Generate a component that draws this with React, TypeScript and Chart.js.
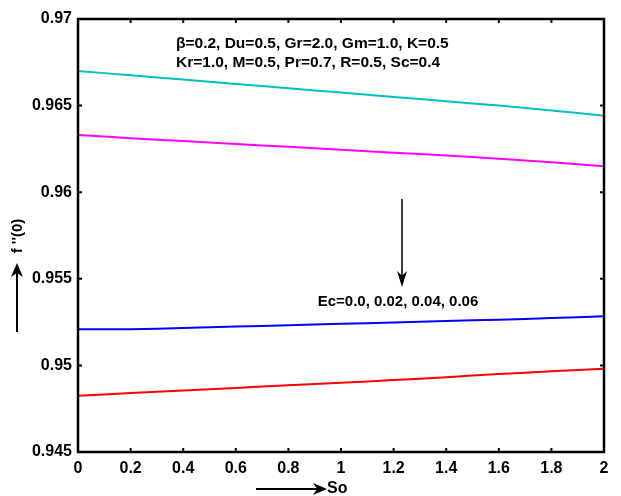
import React, { useEffect, useRef } from "react";
import { Chart, registerables } from "chart.js";

Chart.register(...registerables);

// Soret number grid
const soValues = [0, 0.2, 0.4, 0.6, 0.8, 1.0, 1.2, 1.4, 1.6, 1.8, 2.0];

// Skin friction f''(0) for Ec = 0.0, 0.02, 0.04, 0.06
const fppEc000 = [0.9670, 0.96675, 0.9665, 0.96625, 0.9660, 0.96575, 0.9655, 0.96525, 0.9650, 0.96472, 0.96442];
const fppEc002 = [0.9633, 0.96312, 0.96295, 0.96278, 0.96262, 0.96245, 0.96228, 0.96212, 0.96193, 0.96173, 0.9615];
const fppEc004 = [0.95208, 0.95209, 0.95216, 0.95224, 0.95232, 0.9524, 0.95248, 0.95256, 0.95264, 0.95273, 0.95284];
const fppEc006 = [0.94825, 0.9484, 0.94855, 0.9487, 0.94885, 0.949, 0.94915, 0.94932, 0.9495, 0.94966, 0.9498];

const seriesColors = ["#00c0c0", "#ff00ff", "#0000ff", "#ff0000"];

const xTicks = [0, 0.2, 0.4, 0.6, 0.8, 1, 1.2, 1.4, 1.6, 1.8, 2];
const yTicks = [0.945, 0.95, 0.955, 0.96, 0.965, 0.97];

const paramLine1 = "β=0.2, Du=0.5, Gr=2.0, Gm=1.0, K=0.5";
const paramLine2 = "Kr=1.0, M=0.5, Pr=0.7, R=0.5, Sc=0.4";
const ecLabel = "Ec=0.0, 0.02, 0.04, 0.06";
const xLabel = "So";
const yLabel = "f ''(0)";

const FONT = '"Liberation Sans", Arial, sans-serif';

function arrow(ctx: CanvasRenderingContext2D, x1: number, y1: number, x2: number, y2: number, lw: number, head: number, halfW: number) {
  const ang = Math.atan2(y2 - y1, x2 - x1);
  const cos = Math.cos(ang), sin = Math.sin(ang);
  ctx.save();
  ctx.strokeStyle = "#000";
  ctx.fillStyle = "#000";
  ctx.lineWidth = lw;
  ctx.beginPath();
  ctx.moveTo(x1, y1);
  ctx.lineTo(x2 - cos * head * 0.6, y2 - sin * head * 0.6);
  ctx.stroke();
  // notched arrow head
  const bx = x2 - cos * head, by = y2 - sin * head;
  const nx = x2 - cos * head * 0.7, ny = y2 - sin * head * 0.7;
  ctx.beginPath();
  ctx.moveTo(x2, y2);
  ctx.lineTo(bx - sin * halfW, by + cos * halfW);
  ctx.lineTo(nx, ny);
  ctx.lineTo(bx + sin * halfW, by - cos * halfW);
  ctx.closePath();
  ctx.fill();
  ctx.restore();
}

const framePlugin = {
  id: "frameAndNotes",
  afterDatasetsDraw(chart: any) {
    const ctx: CanvasRenderingContext2D = chart.ctx;
    const { left, right, top, bottom } = chart.chartArea;
    const xs = chart.scales.x;
    const ys = chart.scales.y;
    ctx.save();
    ctx.strokeStyle = "#000";
    ctx.lineWidth = 2.5;
    ctx.strokeRect(left, top, right - left, bottom - top);
    // inward tick marks on all four sides
    ctx.lineWidth = 2;
    const tl = 4;
    ctx.beginPath();
    xTicks.forEach((v) => {
      const px = xs.getPixelForValue(v);
      ctx.moveTo(px, bottom);
      ctx.lineTo(px, bottom - tl);
      ctx.moveTo(px, top);
      ctx.lineTo(px, top + tl);
    });
    yTicks.forEach((v) => {
      const py = ys.getPixelForValue(v);
      ctx.moveTo(left, py);
      ctx.lineTo(left + tl, py);
      ctx.moveTo(right, py);
      ctx.lineTo(right - tl, py);
    });
    ctx.stroke();

    // parameter annotation
    ctx.fillStyle = "#000";
    ctx.font = `bold 15.5px ${FONT}`;
    ctx.textAlign = "left";
    ctx.textBaseline = "middle";
    ctx.fillText(paramLine1, 176, 44);
    ctx.fillText(paramLine2, 176, 63);

    // Ec direction arrow and label
    arrow(ctx, 402, 199, 402, 287, 1.5, 16, 5);
    ctx.font = `bold 15px ${FONT}`;
    ctx.textAlign = "center";
    ctx.fillText(ecLabel, 398, 302);

    // x-axis label with arrow
    arrow(ctx, 256, 489, 327, 489, 2, 14, 6);
    ctx.font = `bold 16px ${FONT}`;
    ctx.textAlign = "left";
    ctx.fillText(xLabel, 327, 489);

    // y-axis label with arrow
    arrow(ctx, 17, 332, 17, 263, 2, 14, 6);
    ctx.save();
    ctx.translate(18, 236);
    ctx.rotate(-Math.PI / 2);
    ctx.font = `bold 15px ${FONT}`;
    ctx.textAlign = "center";
    ctx.fillText(yLabel, 0, 0);
    ctx.restore();
    ctx.restore();
  },
};

export default function App() {
  const canvasRef = useRef<HTMLCanvasElement>(null);

  useEffect(() => {
    if (!canvasRef.current) return;
    const series = [fppEc000, fppEc002, fppEc004, fppEc006];
    const chart = new Chart(canvasRef.current, {
      type: "line",
      data: {
        datasets: series.map((vals, i) => ({
          label: `Ec ${i}`,
          data: soValues.map((x, j) => ({ x, y: vals[j] })),
          borderColor: seriesColors[i],
          backgroundColor: seriesColors[i],
          borderWidth: 2,
          pointRadius: 0,
          tension: 0.2,
          fill: false,
        })),
      },
      options: {
        responsive: false,
        animation: false,
        events: [],
        layout: { padding: { left: 0, top: 19, right: 17, bottom: 0 } },
        plugins: { legend: { display: false }, tooltip: { enabled: false } },
        scales: {
          x: {
            type: "linear",
            min: 0,
            max: 2,
            afterFit: (s: any) => {
              s.height = 44;
            },
            afterBuildTicks: (s: any) => {
              s.ticks = xTicks.map((v) => ({ value: v }));
            },
            grid: { display: false, drawTicks: false },
            border: { display: false },
            ticks: {
              padding: 7,
              color: "#000",
              maxRotation: 0,
              autoSkip: false,
              font: { family: FONT, size: 16, weight: "bold" },
              callback: (v: any) => String(Number(Number(v).toFixed(1))),
            },
          },
          y: {
            min: 0.945,
            max: 0.97,
            afterFit: (s: any) => {
              s.width = 78;
            },
            afterBuildTicks: (s: any) => {
              s.ticks = yTicks.map((v) => ({ value: v }));
            },
            grid: { display: false, drawTicks: false },
            border: { display: false },
            ticks: {
              padding: 6,
              color: "#000",
              autoSkip: false,
              font: { family: FONT, size: 16, weight: "bold" },
              callback: (v: any) => String(Number(Number(v).toFixed(3))),
            },
          },
        },
      },
      plugins: [framePlugin],
    } as any);
    return () => chart.destroy();
  }, []);

  return (
    <div style={{ position: "fixed", left: 0, top: 0, width: 621, height: 496, background: "#fff" }}>
      <canvas ref={canvasRef} width={621} height={496} style={{ display: "block" }} />
    </div>
  );
}
